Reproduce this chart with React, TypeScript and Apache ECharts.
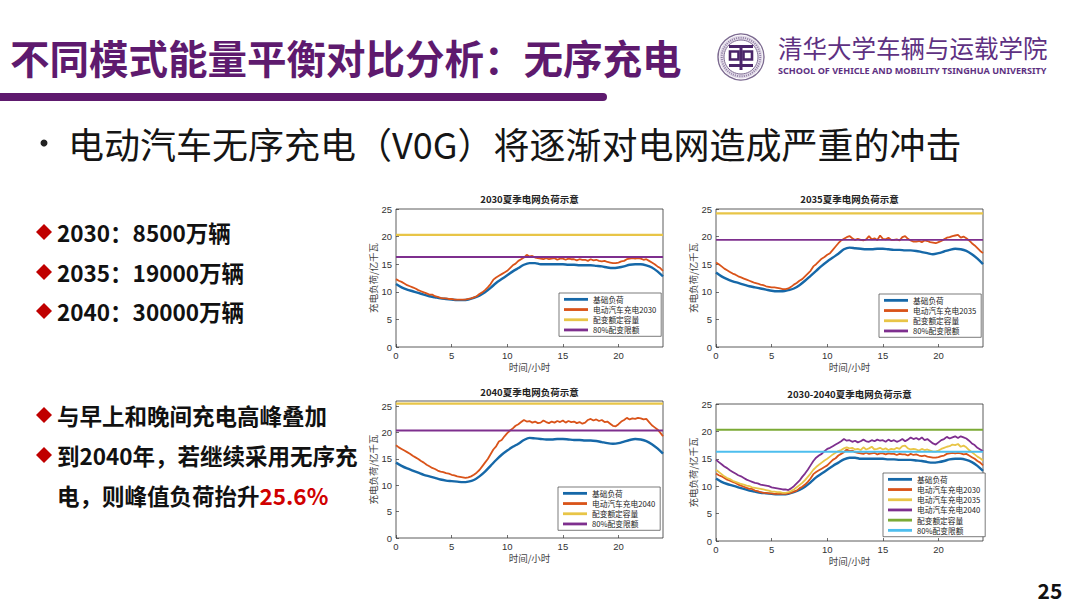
import React, { useEffect, useRef } from "react";
import * as echarts from "echarts";

const CJK = "'Noto Sans CJK SC', 'Noto Sans', sans-serif";
const LAT = "'Liberation Sans', 'Noto Sans CJK SC', Arial, sans-serif";

// hour grids
const HALF_HOURS = Array.from({ length: 49 }, (_, i) => i * 0.5);
const QUARTER_HOURS = Array.from({ length: 97 }, (_, i) => i * 0.25);

const CHART_TITLES = ["2030夏季电网负荷示意", "2035夏季电网负荷示意", "2040夏季电网负荷示意", "2030-2040夏季电网负荷示意"];
const X_NAME = "时间/小时";
const Y_NAME = "充电负荷/亿千瓦";
const CAPACITY = [20.3, 24.2, 25.5, 20.3];
const LIMIT = [16.3, 19.4, 20.4, 16.3];
const Y_MAX = [25, 25, 26, 25];

const N_BASE = "基础负荷";
const N_EV30 = "电动汽车充电2030";
const N_EV35 = "电动汽车充电2035";
const N_EV40 = "电动汽车充电2040";
const N_CAP = "配变额定容量";
const N_LIM = "80%配变限额";

// base load (every 0.5 h)
const BASE_2030 = [
  11.4, 10.8, 10.4, 10.1, 9.8, 9.5, 9.2, 9.0, 8.8, 8.7,
  8.6, 8.5, 8.5, 8.6, 8.9, 9.3, 9.9, 10.7, 11.6, 12.3,
  13.0, 13.7, 14.3, 14.9, 15.2, 15.2, 15.0, 15.0, 15.0, 15.0,
  15.0, 14.9, 14.9, 14.8, 14.8, 14.8, 14.7, 14.6, 14.4, 14.3,
  14.4, 14.6, 14.9, 15.0, 15.0, 14.8, 14.4, 13.7, 12.8,
];
const BASE_2035 = [
  13.5, 12.8, 12.3, 11.9, 11.6, 11.3, 11.0, 10.8, 10.6, 10.4,
  10.2, 10.1, 10.1, 10.3, 10.6, 11.2, 12.0, 12.9, 13.8, 14.7,
  15.5, 16.2, 16.9, 17.7, 18.0, 17.9, 17.8, 17.7, 17.7, 17.8,
  17.8, 17.7, 17.6, 17.6, 17.5, 17.5, 17.4, 17.2, 17.0, 16.8,
  17.0, 17.3, 17.6, 17.8, 17.7, 17.4, 16.8, 16.0, 15.0,
];
const BASE_2040 = [
  14.3, 13.7, 13.2, 12.8, 12.4, 12.0, 11.7, 11.4, 11.1, 10.9,
  10.8, 10.7, 10.6, 10.7, 11.0, 11.7, 12.6, 13.7, 14.8, 15.8,
  16.6, 17.3, 17.9, 18.6, 19.0, 18.9, 18.8, 18.7, 18.7, 18.8,
  18.8, 18.7, 18.6, 18.6, 18.5, 18.5, 18.4, 18.2, 18.0, 17.9,
  18.0, 18.3, 18.6, 18.8, 18.7, 18.4, 17.8, 17.0, 16.0,
];

// load with EV charging (every 0.25 h), one hour per line
const EV_2030 = [
  12.3, 12.0, 11.8, 11.5,
  11.2, 11.0, 10.8, 10.6,
  10.3, 10.1, 9.9, 9.7,
  9.5, 9.5, 9.2, 9.1,
  8.9, 8.8, 8.8, 8.7,
  8.7, 8.6, 8.6, 8.6,
  8.6, 8.6, 8.7, 8.8,
  9.0, 9.2, 9.6, 9.9,
  10.3, 10.8, 11.4, 12.2,
  12.6, 12.9, 13.2, 13.5,
  13.8, 14.3, 14.8, 15.1,
  15.6, 15.9, 16.2, 16.7,
  16.4, 16.5, 16.2, 16.1,
  16.0, 15.9, 16.1, 15.9,
  16.0, 16.1, 15.8, 16.0,
  16.0, 15.8, 16.0, 15.9,
  15.9, 15.7, 15.9, 15.8,
  15.8, 15.6, 15.9, 15.7,
  15.8, 15.6, 15.5, 15.6,
  15.4, 15.3, 15.2, 15.2,
  15.3, 15.5, 15.6, 15.9,
  16.0, 16.1, 16.0, 16.1,
  16.0, 15.8, 15.9, 15.6,
  15.3, 15.0, 14.6, 14.3,
  13.8,
];
const EV_2035 = [
  15.3, 15.0, 14.6, 14.2,
  13.9, 13.6, 13.3, 13.1,
  12.8, 12.6, 12.4, 12.2,
  12.0, 11.8, 11.6, 11.5,
  11.3, 11.2, 11.0, 10.9,
  10.8, 10.8, 10.7, 10.6,
  10.5, 10.5, 10.6, 10.9,
  11.3, 11.6, 12.0, 12.3,
  12.8, 13.3, 13.8, 14.6,
  15.0, 15.5, 16.0, 16.3,
  16.7, 17.0, 17.6, 18.2,
  18.8, 19.3, 19.6, 19.9,
  20.1, 19.7, 19.4, 19.6,
  19.4, 19.3, 19.5, 20.1,
  19.5, 19.7, 19.4, 20.2,
  19.6, 19.5, 19.8, 19.4,
  19.4, 19.5, 19.3, 19.9,
  20.1, 19.6, 19.3, 19.1,
  19.1, 19.2, 19.0, 19.3,
  19.2, 19.0, 18.9, 18.8,
  19.0, 19.2, 19.5, 19.8,
  19.9, 20.1, 20.2, 20.3,
  19.8, 20.0, 19.7, 19.3,
  18.8, 18.4, 17.9, 17.4,
  17.0,
];
const EV_2040 = [
  17.6, 17.2, 16.9, 16.6,
  16.3, 16.0, 15.6, 15.3,
  15.0, 14.6, 14.3, 13.9,
  13.6, 13.3, 13.1, 12.8,
  12.6, 12.5, 12.3, 12.2,
  12.0, 11.9, 11.7, 11.6,
  11.5, 11.4, 11.5, 11.7,
  12.0, 12.4, 12.9, 13.6,
  14.3, 15.0, 15.9, 16.8,
  17.4, 18.3, 18.6, 19.3,
  19.9, 20.4, 20.8, 21.3,
  21.6, 22.0, 22.4, 22.1,
  22.2, 21.9, 22.1, 21.8,
  21.9, 22.3, 22.0, 21.8,
  22.1, 21.9, 22.2, 22.0,
  22.3, 21.9, 22.2, 22.0,
  22.1, 21.8, 22.0, 21.7,
  21.9, 22.4, 22.6, 22.3,
  22.5, 22.2, 22.4, 22.0,
  22.1, 21.7, 21.3, 21.2,
  21.6, 22.1, 22.4, 22.8,
  22.5, 22.7, 22.6, 22.8,
  22.7, 22.5, 22.6, 22.0,
  21.4, 21.0, 20.6, 20.0,
  19.3,
];
// combined chart: 2035 and 2040 charging on the 2030 base
const MIX_2035 = [
  13.0, 12.6, 12.2, 11.8,
  11.5, 11.3, 11.0, 10.8,
  10.6, 10.4, 10.3, 10.1,
  10.0, 9.8, 9.7, 9.6,
  9.5, 9.4, 9.3, 9.2,
  9.0, 9.0, 8.9, 8.9,
  8.8, 8.8, 8.9, 9.1,
  9.4, 9.8, 10.2, 10.6,
  11.1, 11.7, 12.3, 13.0,
  13.5, 13.9, 14.3, 14.7,
  15.0, 15.4, 15.8, 16.1,
  16.4, 16.6, 16.9, 17.1,
  16.9, 17.0, 16.7, 16.8,
  16.6, 17.1, 16.7, 16.9,
  17.2, 16.7, 16.8, 17.0,
  16.7, 16.9, 16.6, 16.8,
  16.7, 17.0, 16.8, 17.3,
  17.4, 16.9, 16.7, 16.8,
  16.7, 16.5, 16.8, 16.6,
  16.7, 16.5, 16.3, 16.3,
  16.5, 16.8, 17.0, 17.2,
  17.3, 17.6, 17.5, 17.7,
  17.2, 17.4, 17.1, 16.6,
  16.2, 15.8, 15.4, 15.1,
  14.7,
];
const MIX_2040 = [
  14.8, 14.4, 14.0, 13.6,
  13.3, 12.9, 12.6, 12.3,
  12.0, 11.8, 11.5, 11.2,
  11.0, 10.8, 10.6, 10.5,
  10.3, 10.2, 10.1, 10.0,
  9.8, 9.7, 9.6, 9.5,
  9.4, 9.4, 9.3, 9.6,
  10.0, 10.5, 11.0, 11.7,
  12.3, 13.0, 13.8, 14.6,
  15.2, 15.6, 15.9, 16.4,
  16.8, 17.0, 17.3, 17.6,
  17.9, 18.2, 18.6, 18.3,
  18.4, 18.1, 18.3, 18.0,
  18.2, 18.5, 18.2, 18.1,
  18.4, 18.2, 18.5, 18.3,
  18.4, 18.1, 18.5, 18.2,
  18.4, 18.1, 18.3, 18.6,
  18.2, 18.5, 18.9, 18.6,
  18.8, 18.5, 18.9, 18.4,
  18.6, 18.2, 17.8, 17.6,
  18.0, 18.4, 18.6, 19.0,
  18.7, 18.9, 19.1, 18.8,
  19.1, 18.9, 18.7, 18.3,
  17.8, 17.5, 17.0, 16.7,
  16.4,
];

const COL = {
  blue: "#1668A8",
  orange: "#D95319",
  yellow: "#E8C547",
  purple: "#7E2F8E",
  green: "#7BAA35",
  cyan: "#4DBEEE",
};

const GRIDS = [
  { left: 396, top: 209, width: 267, height: 138 },
  { left: 716, top: 209, width: 267, height: 138 },
  { left: 396, top: 401, width: 267, height: 137 },
  { left: 716, top: 404, width: 267, height: 137 },
];
const TITLE_TOPS = [194, 194, 387, 389];
const LEGEND_POS = [
  { left: 559, top: 293 },
  { left: 879, top: 294 },
  { left: 558, top: 487 },
  { left: 883, top: 473 },
];

const pairs = (hours: number[], vals: number[]) => vals.map((v, i) => [hours[i], v]);
const flat = (v: number) => [[0, v], [24, v]];

function line(name: string, gi: number, data: number[][], color: string, width: number, smooth: number | boolean = false) {
  return {
    type: "line",
    name,
    xAxisIndex: gi,
    yAxisIndex: gi,
    data,
    symbol: "none",
    showSymbol: false,
    smooth,
    silent: true,
    lineStyle: { color, width },
    itemStyle: { color },
  };
}

function buildOption() {
  const PURPLE = "#5E1A6E";
  const series: any[] = [
    line(N_BASE, 0, pairs(HALF_HOURS, BASE_2030), COL.blue, 2.4, 0.3),
    line(N_EV30, 0, pairs(QUARTER_HOURS, EV_2030), COL.orange, 1.8),
    line(N_CAP, 0, flat(CAPACITY[0]), COL.yellow, 2.2),
    line(N_LIM, 0, flat(LIMIT[0]), COL.purple, 1.9),

    line(N_BASE, 1, pairs(HALF_HOURS, BASE_2035), COL.blue, 2.4, 0.3),
    line(N_EV35, 1, pairs(QUARTER_HOURS, EV_2035), COL.orange, 1.8),
    line(N_CAP, 1, flat(CAPACITY[1]), COL.yellow, 2.2),
    line(N_LIM, 1, flat(LIMIT[1]), COL.purple, 1.9),

    line(N_BASE, 2, pairs(HALF_HOURS, BASE_2040), COL.blue, 2.4, 0.3),
    line(N_EV40, 2, pairs(QUARTER_HOURS, EV_2040), COL.orange, 1.8),
    line(N_CAP, 2, flat(CAPACITY[2]), COL.yellow, 2.2),
    line(N_LIM, 2, flat(LIMIT[2]), COL.purple, 1.9),

    line(N_BASE, 3, pairs(HALF_HOURS, BASE_2030), COL.blue, 2.4, 0.3),
    line(N_EV30, 3, pairs(QUARTER_HOURS, EV_2030), COL.orange, 1.8),
    line(N_EV35, 3, pairs(QUARTER_HOURS, MIX_2035), COL.yellow, 1.8),
    line(N_EV40, 3, pairs(QUARTER_HOURS, MIX_2040), COL.purple, 1.8),
    line(N_CAP, 3, flat(CAPACITY[3]), COL.green, 2.2),
    line(N_LIM, 3, flat(LIMIT[3]), COL.cyan, 1.9),
  ];

  const legendItems = [
    [[N_BASE, COL.blue], [N_EV30, COL.orange], [N_CAP, COL.yellow], [N_LIM, COL.purple]],
    [[N_BASE, COL.blue], [N_EV35, COL.orange], [N_CAP, COL.yellow], [N_LIM, COL.purple]],
    [[N_BASE, COL.blue], [N_EV40, COL.orange], [N_CAP, COL.yellow], [N_LIM, COL.purple]],
    [[N_BASE, COL.blue], [N_EV30, COL.orange], [N_EV35, COL.yellow], [N_EV40, COL.purple], [N_CAP, COL.green], [N_LIM, COL.cyan]],
  ];

  const legend = legendItems.map((items, i) => ({
    orient: "vertical",
    left: LEGEND_POS[i].left,
    top: LEGEND_POS[i].top,
    backgroundColor: "#fff",
    borderColor: "#444",
    borderWidth: 0.7,
    borderRadius: 0,
    padding: [2, 5, 2, 5],
    itemGap: 1.5,
    itemWidth: 24,
    itemHeight: 2.8,
    icon: "rect",
    selectedMode: false,
    textStyle: { fontSize: 7.7, lineHeight: 8.7, color: "#222", fontFamily: CJK },
    data: items.map(([name, color]) => ({ name, icon: "rect", itemStyle: { color } })),
  }));

  const title = CHART_TITLES.map((t, i) => ({
    text: t,
    left: GRIDS[i].left + GRIDS[i].width / 2,
    top: TITLE_TOPS[i],
    textAlign: "center",
    padding: 0,
    textStyle: { fontSize: 9.5, fontWeight: "bold", color: "#222", fontFamily: CJK },
  }));

  const xAxis = GRIDS.map((_, i) => ({
    type: "value",
    gridIndex: i,
    min: 0,
    max: 24,
    interval: 5,
    name: X_NAME,
    nameLocation: "middle",
    nameGap: 15,
    nameTextStyle: { fontSize: 9.5, color: "#444", fontFamily: CJK },
    axisLine: { show: false },
    axisTick: { show: true, inside: true, length: 3, lineStyle: { color: "#333", width: 0.7 } },
    axisLabel: { fontSize: 9.5, color: "#333", margin: 4, showMaxLabel: false, fontFamily: LAT },
    splitLine: { show: false },
  }));

  const yAxis = GRIDS.map((_, i) => ({
    type: "value",
    gridIndex: i,
    min: 0,
    max: Y_MAX[i],
    interval: 5,
    name: Y_NAME,
    nameLocation: "middle",
    nameGap: 17,
    nameRotate: 90,
    nameTextStyle: { fontSize: 9.5, color: "#444", fontFamily: CJK },
    axisLine: { show: false },
    axisTick: { show: true, inside: true, length: 3, lineStyle: { color: "#333", width: 0.7 } },
    axisLabel: { fontSize: 9.5, color: "#333", margin: 4, showMaxLabel: Y_MAX[i] % 5 === 0, fontFamily: LAT },
    splitLine: { show: false },
  }));

  const grid = GRIDS.map((g) => ({
    ...g,
    show: true,
    borderColor: "#333",
    borderWidth: 0.8,
    backgroundColor: "#fff",
    containLabel: false,
  }));

  const GLYPH = "#4A2569";
  const graphic: any[] = [
    // slide title
    {
      type: "text",
      x: 10,
      y: 56,
      style: {
        text: "不同模式能量平衡对比分析：无序充电",
        fontSize: 39.5,
        fontWeight: "bold",
        fontFamily: CJK,
        fill: PURPLE,
        verticalAlign: "middle",
      },
    },
    { type: "rect", shape: { x: -10, y: 93, width: 617, height: 8, r: 4 }, style: { fill: PURPLE } },
    // logo seal
    { type: "circle", shape: { cx: 741, cy: 57, r: 23 }, style: { fill: "#fff", stroke: "#7d6b91", lineWidth: 1.4 } },
    { type: "ring", shape: { cx: 741, cy: 57, r: 21.5, r0: 17 }, style: { fill: "#e2dae9" } },
    { type: "circle", shape: { cx: 741, cy: 57, r: 19.3 }, style: { fill: "none", stroke: "#8f7fa2", lineWidth: 2, lineDash: [1, 1.2] } },
    { type: "circle", shape: { cx: 741, cy: 57, r: 17 }, style: { fill: "#fff", stroke: "#7d6b91", lineWidth: 1 } },
    { type: "rect", shape: { x: 729, y: 45, width: 24, height: 3 }, style: { fill: GLYPH } },
    { type: "rect", shape: { x: 739.5, y: 45, width: 3, height: 25 }, style: { fill: GLYPH } },
    { type: "rect", shape: { x: 730, y: 51.5, width: 8.5, height: 8 }, style: { fill: "none", stroke: GLYPH, lineWidth: 2.6 } },
    { type: "rect", shape: { x: 743.5, y: 51.5, width: 8.5, height: 8 }, style: { fill: "none", stroke: GLYPH, lineWidth: 2.6 } },
    { type: "rect", shape: { x: 729, y: 64, width: 24, height: 3 }, style: { fill: GLYPH } },
    {
      type: "text",
      x: 778,
      y: 47,
      style: { text: "清华大学车辆与运载学院", fontSize: 24.5, fontFamily: CJK, fill: "#5E3182", verticalAlign: "middle" },
    },
    {
      type: "text",
      x: 778,
      y: 70,
      style: {
        text: "SCHOOL OF VEHICLE AND MOBILITY TSINGHUA UNIVERSITY",
        fontSize: 9.1,
        fontWeight: "bold",
        fontFamily: "'Noto Sans', sans-serif",
        fill: "#5E3182",
        verticalAlign: "middle",
      },
    },
    // main bullet
    { type: "circle", shape: { cx: 44, cy: 143, r: 3.5 }, style: { fill: "#222" } },
    {
      type: "text",
      x: 68,
      y: 143,
      style: {
        text: "电动汽车无序充电（V0G）将逐渐对电网造成严重的冲击",
        fontSize: 36,
        fontFamily: CJK,
        fill: "#151515",
        verticalAlign: "middle",
      },
    },
    // page number
    {
      type: "text",
      x: 1050,
      y: 590,
      style: { text: "25", fontSize: 21, fontWeight: "bold", fontFamily: CJK, fill: "#111", align: "center", verticalAlign: "middle" },
    },
  ];

  const bulletRows: [string, number][] = [
    ["2030：8500万辆", 232],
    ["2035：19000万辆", 272],
    ["2040：30000万辆", 311],
    ["与早上和晚间充电高峰叠加", 415],
    ["到2040年，若继续采用无序充", 455],
  ];
  bulletRows.forEach(([t, y]) => {
    graphic.push({
      type: "polygon",
      shape: { points: [[44, y - 8], [52, y], [44, y + 8], [36, y]] },
      style: { fill: "#C00000" },
    });
    graphic.push({
      type: "text",
      x: 57,
      y,
      style: { text: t, fontSize: 22.5, fontWeight: "bold", fontFamily: CJK, fill: "#111", verticalAlign: "middle" },
    });
  });
  graphic.push({
    type: "text",
    x: 57,
    y: 495,
    style: {
      text: "{a|电，则峰值负荷抬升}{b|25.6%}",
      verticalAlign: "middle",
      rich: {
        a: { fontSize: 22.5, fontWeight: "bold", fontFamily: CJK, fill: "#111", color: "#111" },
        b: { fontSize: 22.5, fontWeight: "bold", fontFamily: CJK, fill: "#D00000", color: "#D00000" },
      },
    },
  });

  return {
    animation: false,
    backgroundColor: "#fff",
    textStyle: { fontFamily: CJK },
    title,
    legend,
    grid,
    xAxis,
    yAxis,
    series,
    graphic,
  };
}

export default function App() {
  const ref = useRef<HTMLDivElement>(null);
  useEffect(() => {
    if (!ref.current) return;
    const chart = echarts.init(ref.current, null, { renderer: "svg" });
    chart.setOption(buildOption() as any);
    return () => chart.dispose();
  }, []);
  return (
    <div
      ref={ref}
      style={{ position: "absolute", left: 0, top: 0, width: 1080, height: 608, background: "#fff" }}
    />
  );
}
